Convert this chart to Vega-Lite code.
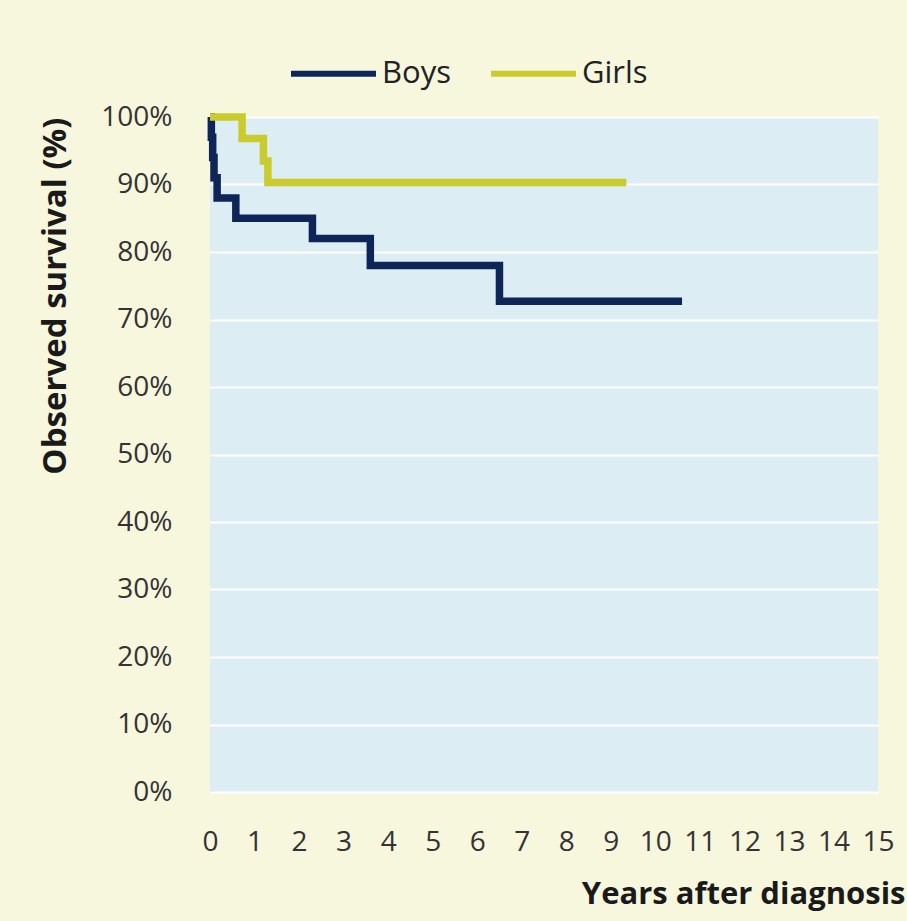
{
  "$schema": "https://vega.github.io/schema/vega-lite/v6.json",
  "width": 668,
  "height": 675,
  "autosize": {"type": "none"},
  "padding": {"left": 210, "top": 117, "right": 29, "bottom": 129},
  "background": "#f7f7de",
  "config": {
    "view": {"fill": "#dcedf3", "stroke": null},
    "font": "Open Sans"
  },
  "data": {
    "values": [
      {"group": "Boys", "years": 0, "survival": 100},
      {"group": "Boys", "years": 0.03, "survival": 97},
      {"group": "Boys", "years": 0.06, "survival": 94},
      {"group": "Boys", "years": 0.09, "survival": 91},
      {"group": "Boys", "years": 0.16, "survival": 88},
      {"group": "Boys", "years": 0.58, "survival": 85},
      {"group": "Boys", "years": 2.3, "survival": 82},
      {"group": "Boys", "years": 3.6, "survival": 78},
      {"group": "Boys", "years": 6.5, "survival": 72.7},
      {"group": "Boys", "years": 10.6, "survival": 72.7},
      {"group": "Girls", "years": 0, "survival": 100},
      {"group": "Girls", "years": 0.72, "survival": 96.8},
      {"group": "Girls", "years": 1.2, "survival": 93.5},
      {"group": "Girls", "years": 1.3, "survival": 90.3},
      {"group": "Girls", "years": 9.35, "survival": 90.3}
    ]
  },
  "mark": {"type": "line", "interpolate": "step-after", "strokeWidth": 7.5, "strokeJoin": "miter", "strokeCap": "butt"},
  "encoding": {
    "x": {
      "field": "years", "type": "quantitative",
      "scale": {"domain": [0, 15], "nice": false, "zero": true},
      "axis": {
        "values": [0,1,2,3,4,5,6,7,8,9,10,11,12,13,14,15],
        "grid": false, "domain": false, "ticks": false,
        "labelFontSize": 28, "labelColor": "#333333", "labelPadding": 36,
        "labelOverlap": false, "labelFlush": false,
        "title": "Years after diagnosis",
        "titleFontSize": 31, "titleFontWeight": "bold", "titleColor": "#1a1a1a",
        "titleAlign": "right", "titleAnchor": null, "titleX": 695, "titleY": 111, "titleBaseline": "alphabetic"
      }
    },
    "y": {
      "field": "survival", "type": "quantitative",
      "scale": {"domain": [0, 100], "nice": false},
      "axis": {
        "values": [0,10,20,30,40,50,60,70,80,90,100],
        "format": ".0f", "labelExpr": "datum.label + '%'",
        "grid": true, "gridColor": "#ffffff", "gridWidth": 2,
        "domain": false, "ticks": false,
        "labelFontSize": 28, "labelColor": "#333333", "labelPadding": 38,
        "title": "Observed survival (%)",
        "titleFontSize": 33, "titleFontWeight": "bold", "titleColor": "#1a1a1a",
        "titleAnchor": "end", "titlePadding": 28
      }
    },
    "color": {
      "field": "group", "type": "nominal",
      "scale": {"domain": ["Boys", "Girls"], "range": ["#0e2558", "#c9cc2c"]},
      "legend": {
        "title": null, "orient": "none", "direction": "horizontal",
        "legendX": 78, "legendY": -89,
        "symbolType": "stroke", "symbolSize": 7225, "symbolStrokeWidth": 6,
        "labelFontSize": 31, "labelColor": "#222222",
        "labelOffset": 3, "columnPadding": 28
      }
    }
  }
}
